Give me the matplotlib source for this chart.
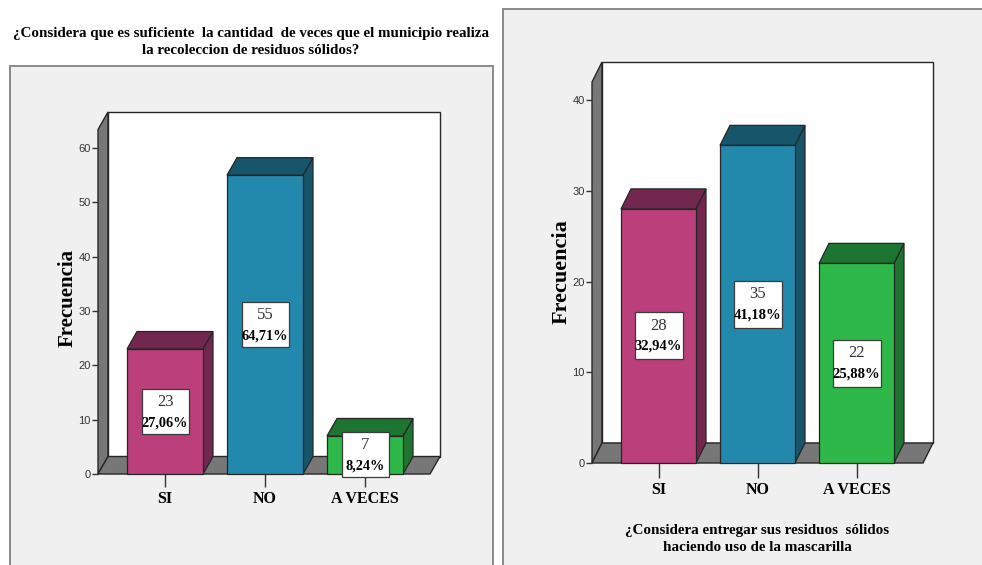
import matplotlib
matplotlib.use("Agg")
import matplotlib.pyplot as plt
from matplotlib.patches import Rectangle, Polygon
from matplotlib.transforms import ScaledTranslation

# ---- data ----
categories = ["SI", "NO", "A VECES"]
freq_left = [23, 55, 7]
pct_left = ["27,06%", "64,71%", "8,24%"]
freq_right = [28, 35, 22]
pct_right = ["32,94%", "41,18%", "25,88%"]
yticks_left = [0, 10, 20, 30, 40, 50, 60]
yticks_right = [0, 10, 20, 30, 40]
title_left = ("¿Considera que es suficiente  la cantidad  de veces que el municipio realiza\n"
              "la recoleccion de residuos sólidos?")
xlabel_right = "¿Considera entregar sus residuos  sólidos\nhaciendo uso de la mascarilla"
ylabel_text = "Frecuencia"

# ---- style ----
front_colors = ["#BA3F7B", "#2389AC", "#2EB84A"]
dark_colors = ["#72274E", "#17566A", "#1E7431"]
wall_gray = "#777777"
edge = "#262626"
panel_bg = "#F0F0F0"
serif = ["Liberation Serif", "DejaVu Serif"]
narrow = ["Liberation Sans Narrow", "Liberation Sans", "DejaVu Sans"]

W, H = 982, 565
DPI = 100
fig = plt.figure(figsize=(W / DPI, H / DPI), dpi=DPI)
fig.patch.set_facecolor("white")


def fx(px):
    return px / W


def fy(py):
    return 1 - py / H


# grey panels behind each chart
fig.patches.append(Rectangle((fx(10), fy(600)), fx(493) - fx(10), (600 - 66) / H,
                             transform=fig.transFigure, facecolor=panel_bg,
                             edgecolor="#8A8A8A", linewidth=1.4, zorder=-5))
fig.patches.append(Rectangle((fx(503), fy(600)), fx(1000) - fx(503), (600 - 9) / H,
                             transform=fig.transFigure, facecolor=panel_bg,
                             edgecolor="#8A8A8A", linewidth=1.4, zorder=-5))


def chart(box_px, centers_px, unit_px, values, pcts, yticks, depth_px,
          bar_w_px, label_box, xtick_len, ylabel_size, ylabel_pos):
    left, right, base, top = box_px
    ax = fig.add_axes([fx(left), fy(base), (right - left) / W, (base - top) / H])
    ax.set_zorder(1)
    c0, step = centers_px
    xlim = ((left - c0) / step, (right - c0) / step)
    ylim = (0, (base - top) / unit_px)
    ax.set_xlim(*xlim)
    ax.set_ylim(*ylim)
    ax.patch.set_visible(False)
    for s in ax.spines.values():
        s.set_visible(False)

    dx = depth_px[0] / step
    dy = depth_px[1] / unit_px
    xl, xr = xlim
    yt = ylim[1]

    # side wall, back wall, floor
    ax.add_patch(Polygon([(xl, 0), (xl + dx, dy), (xl + dx, yt), (xl, yt - dy)],
                         closed=True, facecolor=wall_gray, edgecolor=edge,
                         linewidth=1.0, clip_on=False, zorder=1))
    ax.add_patch(Rectangle((xl + dx, dy), xr - (xl + dx), yt - dy,
                           facecolor="white", edgecolor=edge, linewidth=1.0,
                           clip_on=False, zorder=1))
    ax.add_patch(Polygon([(xl, 0), (xr - dx, 0), (xr, dy), (xl + dx, dy)],
                         closed=True, facecolor=wall_gray, edgecolor=edge,
                         linewidth=1.0, clip_on=False, zorder=2))

    bw = bar_w_px / step
    for i, v in enumerate(values):
        x0, x1 = i - bw / 2, i + bw / 2
        ax.add_patch(Polygon([(x1, 0), (x1 + dx, dy), (x1 + dx, v + dy), (x1, v)],
                             closed=True, facecolor=dark_colors[i], edgecolor=edge,
                             linewidth=0.9, clip_on=False, zorder=3))
        ax.add_patch(Polygon([(x0, v), (x1, v), (x1 + dx, v + dy), (x0 + dx, v + dy)],
                             closed=True, facecolor=dark_colors[i], edgecolor=edge,
                             linewidth=0.9, clip_on=False, zorder=3))
        ax.add_patch(Rectangle((x0, 0), bw, v, facecolor=front_colors[i],
                               edgecolor=edge, linewidth=0.9, clip_on=False, zorder=4))

        # value / percentage box in the middle of the bar
        bwid, bhei, off1, off2, fs1, fs2 = label_box
        tr = fig.dpi_scale_trans + ScaledTranslation(i, v / 2, ax.transData)
        ax.add_patch(Rectangle((-bwid / 2 / DPI, -bhei / 2 / DPI), bwid / DPI, bhei / DPI,
                               transform=tr, facecolor="white", edgecolor="#3a3a3a",
                               linewidth=0.9, clip_on=False, zorder=5))
        ax.annotate(str(v), (i, v / 2), xytext=(0, off1), textcoords="offset pixels",
                    ha="center", va="center", fontsize=fs1, family=serif,
                    color="#333333", zorder=6)
        ax.annotate(pcts[i], (i, v / 2), xytext=(0, off2), textcoords="offset pixels",
                    ha="center", va="center", fontsize=fs2, family=serif,
                    fontweight="bold", color="black", zorder=6)

    ax.set_yticks(yticks)
    ax.set_yticklabels([str(t) for t in yticks], family=narrow, fontsize=8,
                       color="#333333")
    ax.tick_params(axis="y", direction="out", length=4.3, width=1.0,
                   color="#333333", pad=1)
    ax.set_xticks(range(len(categories)))
    ax.set_xticklabels(categories, family=serif, fontweight="bold", fontsize=11.5)
    ax.tick_params(axis="x", direction="out", length=xtick_len, width=1.0,
                   color="#333333", pad=3)
    fig.text(fx(ylabel_pos[0]), fy(ylabel_pos[1]), ylabel_text, rotation=90,
             ha="center", va="center", family=serif, fontweight="bold",
             fontsize=ylabel_size, zorder=2)
    return ax


chart(box_px=(98, 440, 474, 112), centers_px=(165, 100), unit_px=326 / 60,
      values=freq_left, pcts=pct_left, yticks=yticks_left, depth_px=(10, 17.5),
      bar_w_px=76, label_box=(47, 45, 10, -11, 12, 10.3), xtick_len=9.4,
      ylabel_size=15, ylabel_pos=(68, 298))

chart(box_px=(592, 933, 463, 62), centers_px=(658.5, 99), unit_px=363 / 40,
      values=freq_right, pcts=pct_right, yticks=yticks_right, depth_px=(10, 20),
      bar_w_px=75, label_box=(48, 47, 10, -10.5, 12, 10.5), xtick_len=10.8,
      ylabel_size=16, ylabel_pos=(562, 272))

fig.text(fx(251), fy(42), title_left, ha="center", va="center", family=serif,
         fontweight="bold", fontsize=10.8, linespacing=1.45, zorder=2)
fig.text(fx(757), fy(539), xlabel_right, ha="center", va="center", family=serif,
         fontweight="bold", fontsize=10.9, linespacing=1.45, zorder=2)

fig.savefig("out.png", dpi=DPI, facecolor=fig.get_facecolor())
